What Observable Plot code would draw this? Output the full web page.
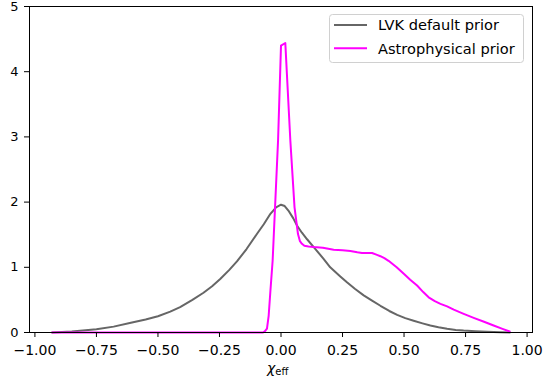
<!DOCTYPE html>
<html><head><meta charset="utf-8">
<script src="https://cdn.jsdelivr.net/npm/d3@7"></script>
<script src="https://cdn.jsdelivr.net/npm/@observablehq/plot@0.6"></script>
<style>
body{margin:0;background:#fff}
#chart svg{font-family:"DejaVu Sans",sans-serif;overflow:visible}
</style>
</head><body><div id="chart"></div>
<script>
const seriesNames = ["LVK default prior", "Astrophysical prior"];
const seriesColors = ["#666666", "#ff00ff"];

const lvkX = [-0.93,-0.85,-0.75,-0.68,-0.61,-0.55,-0.50,-0.45,-0.41,-0.36,-0.315,-0.28,-0.247,-0.21,-0.179,-0.14,-0.098,-0.07,-0.043,-0.02,0,0.015,0.03,0.05,0.065,0.085,0.106,0.133,0.173,0.2,0.241,0.268,0.30,0.336,0.37,0.404,0.44,0.472,0.505,0.539,0.575,0.607,0.64,0.675,0.71,0.742,0.79,0.837,0.891,0.93];
const lvkY = [0,0.015,0.05,0.09,0.15,0.20,0.25,0.32,0.39,0.50,0.61,0.71,0.82,0.96,1.09,1.28,1.51,1.66,1.82,1.92,1.96,1.94,1.87,1.75,1.64,1.53,1.43,1.31,1.13,1.00,0.86,0.77,0.67,0.57,0.49,0.41,0.33,0.27,0.22,0.18,0.14,0.107,0.08,0.056,0.04,0.03,0.02,0.012,0.005,0];

const astroX = [-0.93,-0.5,-0.073,-0.065,-0.057,-0.05,-0.043,-0.034,-0.012,0.0,0.0175,0.038,0.055,0.069,0.077,0.085,0.095,0.112,0.133,0.17,0.214,0.25,0.282,0.31,0.329,0.35,0.37,0.39,0.404,0.42,0.437,0.47,0.499,0.525,0.553,0.578,0.60,0.625,0.648,0.675,0.702,0.74,0.783,0.825,0.864,0.90,0.929];
const astroY = [0,0,0,0.02,0.06,0.26,0.64,1.10,2.94,4.40,4.44,2.94,1.92,1.51,1.40,1.36,1.33,1.32,1.31,1.30,1.27,1.26,1.25,1.23,1.22,1.22,1.22,1.19,1.17,1.14,1.10,1.00,0.90,0.81,0.72,0.62,0.54,0.48,0.44,0.40,0.35,0.29,0.225,0.165,0.107,0.055,0.015];

const xTicks = [-1, -0.75, -0.5, -0.25, 0, 0.25, 0.5, 0.75, 1];
const yTicks = [0, 1, 2, 3, 4, 5];

const data = [
  ...lvkX.map((x, i) => ({x, y: lvkY[i], s: seriesNames[0]})),
  ...astroX.map((x, i) => ({x, y: astroY[i], s: seriesNames[1]}))
];

const W = 544, H = 383;
const plot = Plot.plot({
  width: W, height: H,
  marginLeft: 29, marginRight: 12, marginTop: 6, marginBottom: 51,
  style: {fontSize: "14px", fontFamily: "DejaVu Sans, sans-serif", color: "black", background: "white"},
  x: {domain: [-1.022, 1.022]},
  y: {domain: [0, 5]},
  color: {domain: seriesNames, range: seriesColors},
  marks: [
    Plot.line(data, {x: "x", y: "y", z: "s", stroke: "s", strokeWidth: 2, curve: "linear"}),
    Plot.frame({stroke: "black", strokeWidth: 1}),
    Plot.axisX({ticks: xTicks, tickFormat: d3.format(".2f"), tickSize: 5, tickPadding: 8, label: null, fontSize: 14}),
    Plot.axisY({ticks: yTicks, tickFormat: d3.format("d"), tickSize: 5, tickPadding: 6, label: null, fontSize: 13})
  ]
});
document.getElementById("chart").appendChild(plot);

const svg = d3.select(plot);
// x label
const xl = svg.append("text").attr("x", 267).attr("y", 373).attr("text-anchor", "start").attr("fill", "black");
xl.append("tspan").attr("font-style", "italic").attr("font-size", 14).text("χ");
xl.append("tspan").attr("font-size", 10).attr("dy", 2).text("eff");

// legend
const lg = svg.append("g").attr("text-anchor", "start");
lg.append("rect").attr("x", 329.5).attr("y", 14.5).attr("width", 194).attr("height", 48).attr("rx", 3)
  .attr("fill", "white").attr("fill-opacity", 0.8).attr("stroke", "#d0d0d0");
seriesNames.forEach((n, i) => {
  const yy = 25 + i * 23.3;
  lg.append("line").attr("x1", 334).attr("x2", 367).attr("y1", yy).attr("y2", yy)
    .attr("stroke", seriesColors[i]).attr("stroke-width", 2);
  lg.append("text").attr("x", 378).attr("y", yy + 5.3).attr("font-size", 14.6).attr("fill", "black").text(n);
});
</script>
</body></html>
